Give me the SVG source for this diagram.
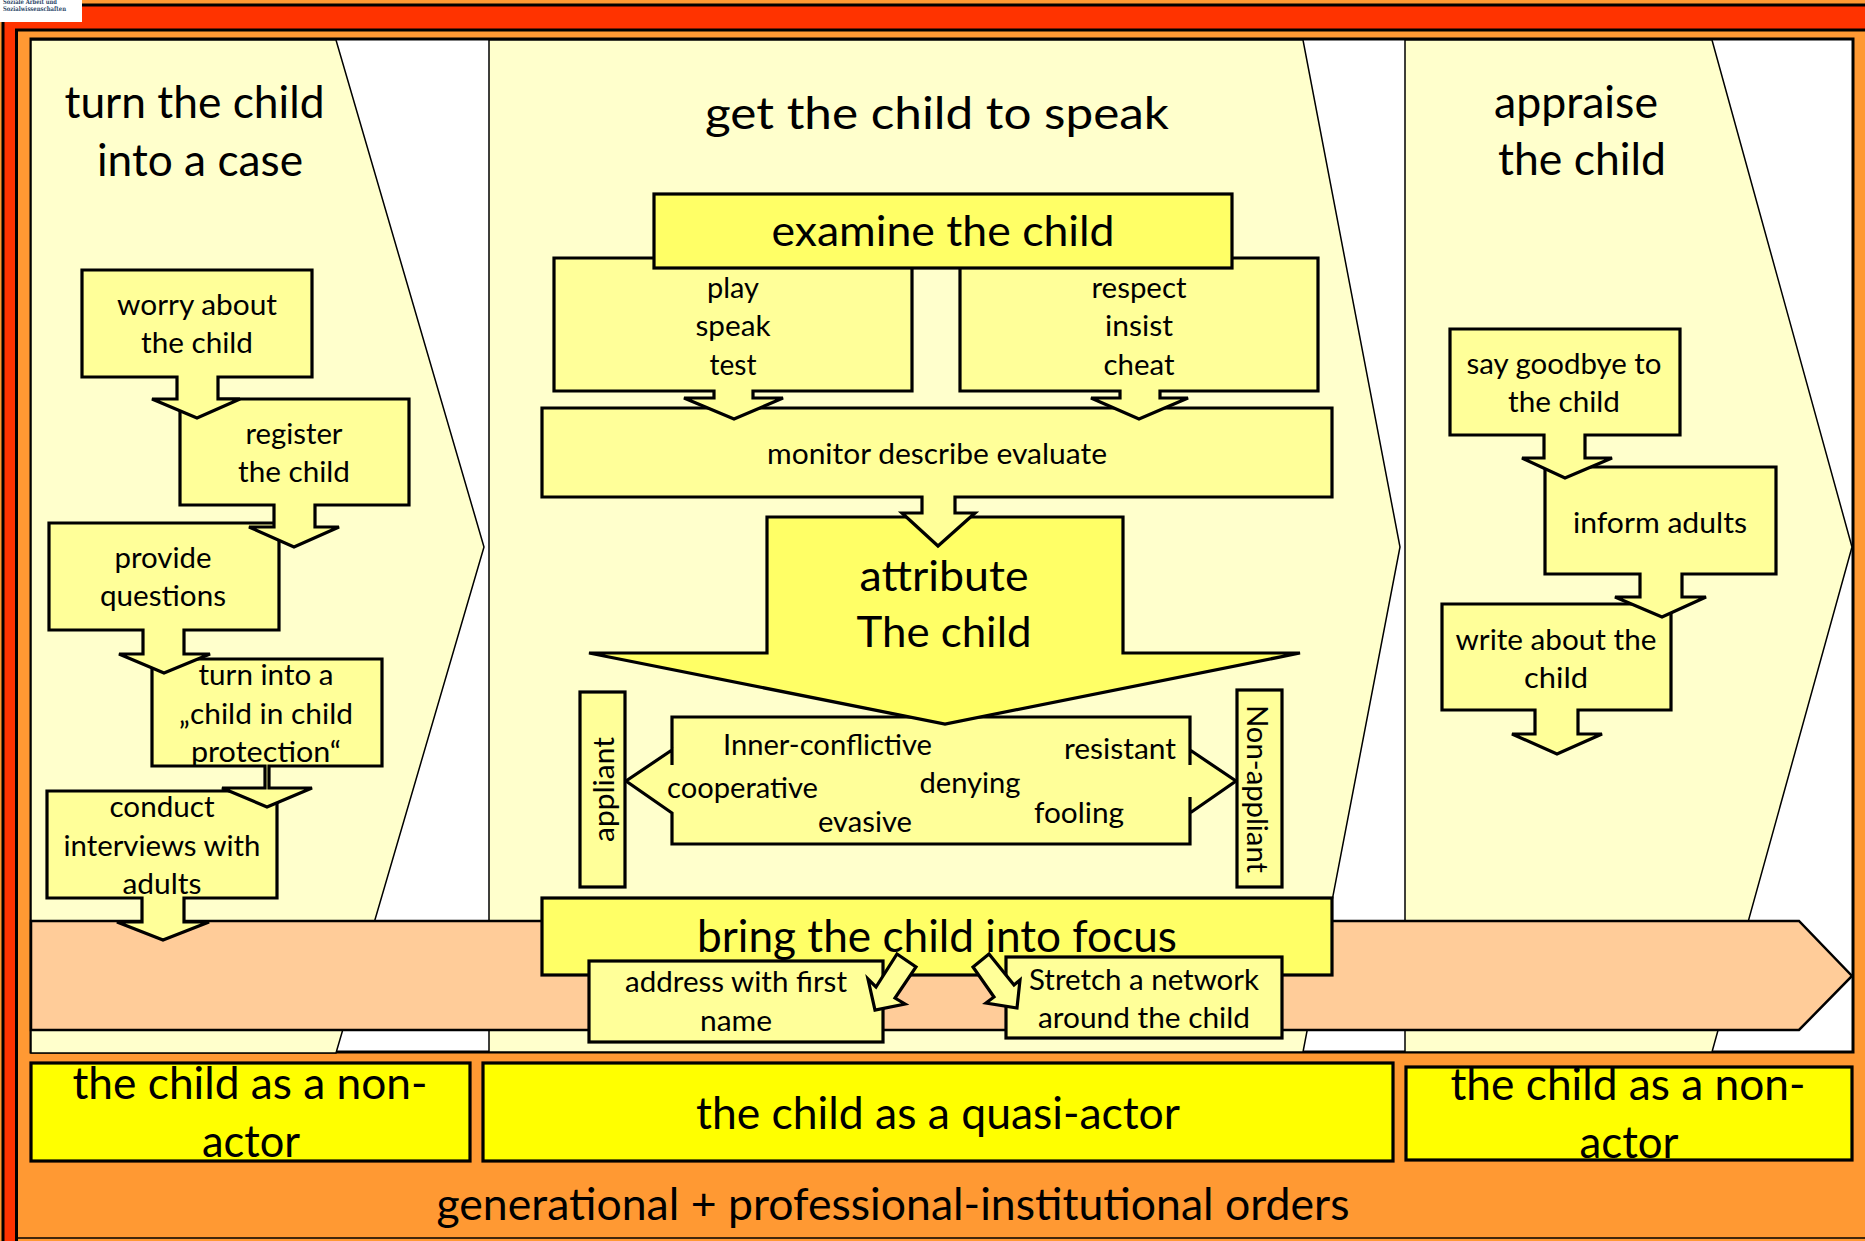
<svg xmlns="http://www.w3.org/2000/svg" width="1865" height="1241" viewBox="0 0 1865 1241">
<style>
text{font-family:Lato,"Liberation Sans",sans-serif;fill:#000;text-anchor:middle;font-size:29px}
.t{font-size:45px}
.h{font-size:42px}
.b{font-size:44px}
.n{fill:#ffff99;stroke:#000;stroke-width:3.2;stroke-linejoin:miter}
.s{fill:#ffff66;stroke:#000;stroke-width:3.2}
.y{fill:#ffff00;stroke:#000;stroke-width:3.2}
.p{fill:#ffffcc;stroke:#000;stroke-width:1.5}
.lg{font-family:"DejaVu Serif",serif;font-weight:bold;font-size:6.5px;fill:#2f4a6b;text-anchor:start}
</style>
<rect width="1865" height="1241" fill="#ff9933"/>
<g id="frame">
<path d="M3 22V1241H16V30H1865V5H82V22Z" fill="#ff3300"/>
<path d="M3 22V1241M16.500 1241V30H1865M82 5H1865" fill="none" stroke="#000" stroke-width="3"/>
<path d="M17 1238H1865" stroke="#000" stroke-width="1.500"/>
<rect x="31" y="39" width="1822" height="1013" fill="#fff" stroke="#000" stroke-width="3"/>
</g>
<g id="logo">
<rect width="82" height="22" fill="#fff"/>
<text class="lg" x="3" y="3.500" textLength="54" lengthAdjust="spacingAndGlyphs">Soziale Arbeit und</text>
<text class="lg" x="3" y="11" textLength="63" lengthAdjust="spacingAndGlyphs">Sozialwissenschaften</text>
</g>
<g id="phase-case"><polygon class="p" points="31,40 336,40 484,547 336,1053 31,1053"/></g>
<g id="phase-speak"><polygon class="p" points="489,40 1303,40 1400,547 1303,1052 489,1052"/></g>
<g id="phase-appraise"><polygon class="p" points="1405,40 1712,40 1852,547 1712,1052 1405,1052"/></g>
<g id="focus-band"><polygon fill="#ffcc99" stroke="#000" stroke-width="2.500" points="31,921 1799,921 1852,976 1799,1030 31,1030"/></g>
<text class="t" x="194.500" y="117.500" textLength="260" lengthAdjust="spacingAndGlyphs">turn the child</text>
<text class="t" x="200" y="175.500" textLength="206" lengthAdjust="spacingAndGlyphs">into a case</text>
<text class="t" x="937" y="129" textLength="464" lengthAdjust="spacingAndGlyphs">get the child to speak</text>
<text class="t" x="1576" y="118" textLength="164" lengthAdjust="spacingAndGlyphs">appraise</text>
<text class="t" x="1582" y="175" textLength="168" lengthAdjust="spacingAndGlyphs">the child</text>
<g id="connectors"></g>
<g id="conduct"><path class="n" d="M47 791H277V898H184V922H209L163 940L117 922H142V898H47Z"/>
<text x="162" y="817" textLength="105" lengthAdjust="spacingAndGlyphs">conduct</text><text x="162" y="856" textLength="197" lengthAdjust="spacingAndGlyphs">interviews with</text><text x="162" y="894" textLength="79" lengthAdjust="spacingAndGlyphs">adults</text></g>
<g id="turn-into"><path class="n" d="M152 659H382V766H269V788H312L267 807L222 788H265V766H152Z"/>
<text x="266" y="685" textLength="135" lengthAdjust="spacingAndGlyphs">turn into a</text><text x="266" y="724" textLength="174" lengthAdjust="spacingAndGlyphs">„child in child</text><text x="266" y="762" textLength="150" lengthAdjust="spacingAndGlyphs">protection“</text></g>
<g id="provide"><path class="n" d="M49 523H279V630H184V654H210L164 673L119 654H143V630H49Z"/>
<text x="163" y="568" textLength="97" lengthAdjust="spacingAndGlyphs">provide</text><text x="163" y="606" textLength="126" lengthAdjust="spacingAndGlyphs">questions</text></g>
<g id="register"><path class="n" d="M180 399H409V505H315V527H339L294 547L249 527H274V505H180Z"/>
<text x="294" y="444" textLength="97" lengthAdjust="spacingAndGlyphs">register</text><text x="294" y="482" textLength="112" lengthAdjust="spacingAndGlyphs">the child</text></g>
<g id="worry"><path class="n" d="M82 270H312V377H218V399H240L197 418L152 399H177V377H82Z"/>
<text x="197" y="315" textLength="160" lengthAdjust="spacingAndGlyphs">worry about</text><text x="197" y="353" textLength="112" lengthAdjust="spacingAndGlyphs">the child</text></g>
<g id="inner-states"><path class="n" d="M672 765V717H1190V765M1190 797V844H672V813L626 781L672 750V765M1190 765V750L1236 781L1190 813V797" fill="#ffff99"/>
<path fill="#ffff99" d="M672 765V797H1190V765Z"/>
<text x="827.500" y="755" textLength="209" lengthAdjust="spacingAndGlyphs">Inner-conflictive</text><text x="1120" y="759" textLength="112" lengthAdjust="spacingAndGlyphs">resistant</text><text x="742.500" y="798" textLength="151" lengthAdjust="spacingAndGlyphs">cooperative</text><text x="970" y="793" textLength="101" lengthAdjust="spacingAndGlyphs">denying</text><text x="1079" y="823" textLength="90" lengthAdjust="spacingAndGlyphs">fooling</text><text x="865" y="832" textLength="94" lengthAdjust="spacingAndGlyphs">evasive</text></g>
<g id="attribute"><path class="s" d="M767 517H1123V653H1300L945 724L589 653H767Z"/>
<text class="h" x="944" y="591" textLength="169" lengthAdjust="spacingAndGlyphs">attribute</text><text class="h" x="944" y="647" textLength="175" lengthAdjust="spacingAndGlyphs">The child</text></g>
<g id="monitor"><path class="n" d="M542 408H1332V497H955V513H975L938 546L902 513H922V497H542Z"/>
<text x="937" y="464" textLength="340" lengthAdjust="spacingAndGlyphs">monitor describe evaluate</text></g>
<g id="play"><path class="n" d="M554 258H912V391H753V398H783L734 419L684 398H714V391H554Z"/>
<text x="733" y="298" textLength="52" lengthAdjust="spacingAndGlyphs">play</text><text x="733" y="336" textLength="75" lengthAdjust="spacingAndGlyphs">speak</text><text x="733" y="375" textLength="47" lengthAdjust="spacingAndGlyphs">test</text></g>
<g id="respect"><path class="n" d="M960 258H1318V391H1160V398H1188L1139 419L1091 398H1120V391H960Z"/>
<text x="1139" y="298" textLength="95" lengthAdjust="spacingAndGlyphs">respect</text><text x="1139" y="336" textLength="68" lengthAdjust="spacingAndGlyphs">insist</text><text x="1139" y="375" textLength="71" lengthAdjust="spacingAndGlyphs">cheat</text></g>
<g id="examine"><rect class="s" x="654" y="194" width="578" height="74"/>
<text class="h" x="943" y="246" textLength="343" lengthAdjust="spacingAndGlyphs">examine the child</text></g>
<g id="appliant"><rect class="n" x="580" y="692" width="45" height="195"/>
<text transform="translate(614 789.500) rotate(-90)" textLength="105" lengthAdjust="spacingAndGlyphs">appliant</text></g>
<g id="non-appliant"><rect class="n" x="1237" y="690" width="45" height="197"/>
<text transform="translate(1247 789) rotate(90)" textLength="168" lengthAdjust="spacingAndGlyphs">Non-appliant</text></g>
<g id="bring"><rect class="s" x="542" y="898" width="790" height="77"/>
<text class="b" x="937" y="952" textLength="480" lengthAdjust="spacingAndGlyphs">bring the child into focus</text></g>
<g id="address"><rect class="n" x="589" y="961" width="294" height="81"/>
<text x="736" y="992" textLength="222" lengthAdjust="spacingAndGlyphs">address with first</text><text x="736" y="1031" textLength="72" lengthAdjust="spacingAndGlyphs">name</text></g>
<g id="stretch"><rect class="n" x="1006" y="957" width="276" height="81"/>
<text x="1144" y="990" textLength="230" lengthAdjust="spacingAndGlyphs">Stretch a network</text><text x="1144" y="1028" textLength="212" lengthAdjust="spacingAndGlyphs">around the child</text></g>
<g id="arrow-address"><polygon class="n" points="897,954 916,967 895,998 905,1004 875,1010 868,979 876,987"/></g>
<g id="arrow-stretch"><polygon class="n" points="989,954 973,967 994,997 986,1003 1017,1008 1020,980 1014,985"/></g>
<g id="write"><path class="n" d="M1442 604H1671V710H1578V734H1602L1557 754L1512 734H1535V710H1442Z"/>
<text x="1556" y="650" textLength="201" lengthAdjust="spacingAndGlyphs">write about the</text><text x="1556" y="688" textLength="64" lengthAdjust="spacingAndGlyphs">child</text></g>
<g id="inform"><path class="n" d="M1545 467H1776V574H1682V597H1706L1662 617L1615 597H1640V574H1545Z"/>
<text x="1660" y="533" textLength="174" lengthAdjust="spacingAndGlyphs">inform adults</text></g>
<g id="goodbye"><path class="n" d="M1450 329H1680V435H1585V458H1612L1565 478L1522 458H1544V435H1450Z"/>
<text x="1564" y="374" textLength="195" lengthAdjust="spacingAndGlyphs">say goodbye to</text><text x="1564" y="412" textLength="112" lengthAdjust="spacingAndGlyphs">the child</text></g>
<g id="role-left"><rect class="y" x="31" y="1063" width="439" height="98"/>
<text class="t" x="250" y="1099" textLength="355" lengthAdjust="spacingAndGlyphs">the child as a non-</text><text class="t" x="251" y="1157" textLength="98" lengthAdjust="spacingAndGlyphs">actor</text></g>
<g id="role-mid"><rect class="y" x="483" y="1063" width="910" height="98"/>
<text class="t" x="938" y="1129" textLength="484" lengthAdjust="spacingAndGlyphs">the child as a quasi-actor</text></g>
<g id="role-right"><rect class="y" x="1406" y="1067" width="446" height="93"/>
<text class="t" x="1628" y="1100" textLength="355" lengthAdjust="spacingAndGlyphs">the child as a non-</text><text class="t" x="1629" y="1158" textLength="99" lengthAdjust="spacingAndGlyphs">actor</text></g>
<text class="t" x="893" y="1220" textLength="913" lengthAdjust="spacingAndGlyphs">generational + professional-institutional orders</text>
</svg>
